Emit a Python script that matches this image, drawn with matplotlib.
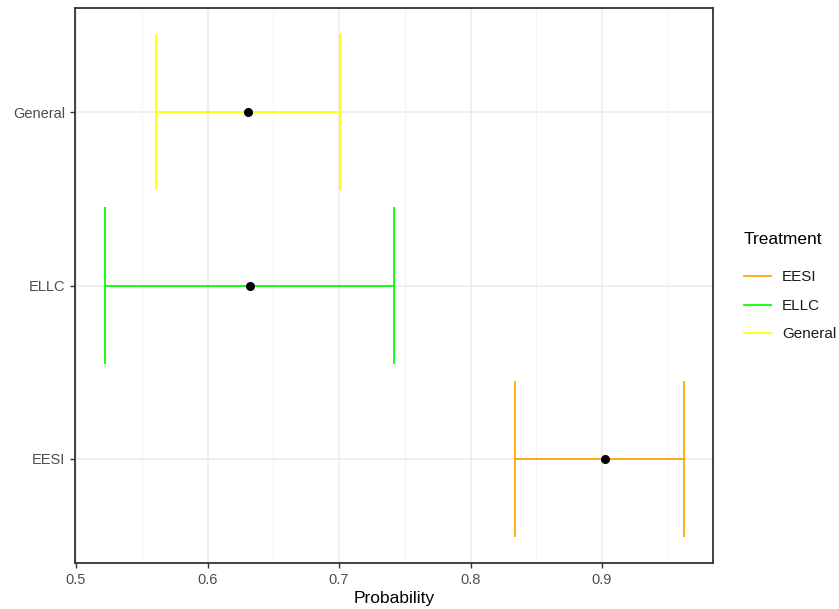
import matplotlib
matplotlib.use("Agg")
import matplotlib.pyplot as plt
from matplotlib.lines import Line2D
from matplotlib.ticker import MultipleLocator

plt.rcParams['font.family'] = ['Liberation Sans', 'DejaVu Sans']

treatments = ['EESI', 'ELLC', 'General']
estimates = [0.902, 0.632, 0.631]
lower = [0.834, 0.522, 0.561]
upper = [0.962, 0.742, 0.701]
colors = ['#FFA500', '#00FF00', '#FFFF00']

cap_half = 0.45

fig = plt.figure(figsize=(8.39, 6.09), dpi=100)
ax = fig.add_axes([75 / 839, 46 / 609, 638 / 839, 555 / 609])

ypos = list(range(1, len(treatments) + 1))

# grid first
ax.set_axisbelow(True)
ax.xaxis.set_major_locator(MultipleLocator(0.1))
ax.xaxis.set_minor_locator(MultipleLocator(0.05))
ax.grid(which='major', axis='both', color='#EBEBEB', linewidth=1.1)
ax.grid(which='minor', axis='x', color='#F2F2F2', linewidth=0.6)

for y, est, lo, hi, c in zip(ypos, estimates, lower, upper, colors):
    ax.hlines(y, lo, hi, color=c, linewidth=1.3, zorder=2)
    ax.vlines([lo, hi], y - cap_half, y + cap_half, color=c, linewidth=1.3, zorder=2)
    ax.plot(est, y, 'o', color='black', markersize=5.5, zorder=3)

ax.set_xlim(0.4992, 0.9844)
ax.set_ylim(0.4, 3.6)
ax.set_yticks(ypos)
ax.set_yticklabels(treatments)
ax.set_xticks([0.5, 0.6, 0.7, 0.8, 0.9])
ax.set_xticklabels(['0.5', '0.6', '0.7', '0.8', '0.9'])
ax.tick_params(which='major', colors='#333333', labelcolor='#4D4D4D', labelsize=10.5, length=3.5, width=1)
ax.tick_params(which='minor', length=0)
for s in ax.spines.values():
    s.set_color('#333333')
    s.set_linewidth(1.3)

ax.set_xlabel('Probability', fontsize=12.5, labelpad=3)

handles = [Line2D([0], [0], color=c, linewidth=1.3) for c in colors]
leg = fig.legend(handles, treatments, title='Treatment', loc='upper left',
                 bbox_to_anchor=(730 / 839, 1 - 218 / 609), frameon=False,
                 fontsize=11, title_fontsize=12.5, handlelength=1.8,
                 labelspacing=0.95, handletextpad=0.7)
leg._legend_box.align = 'left'
leg._legend_box.sep = 17
for t in leg.get_texts():
    t.set_color('#1A1A1A')

fig.savefig('out.png', dpi=100)
